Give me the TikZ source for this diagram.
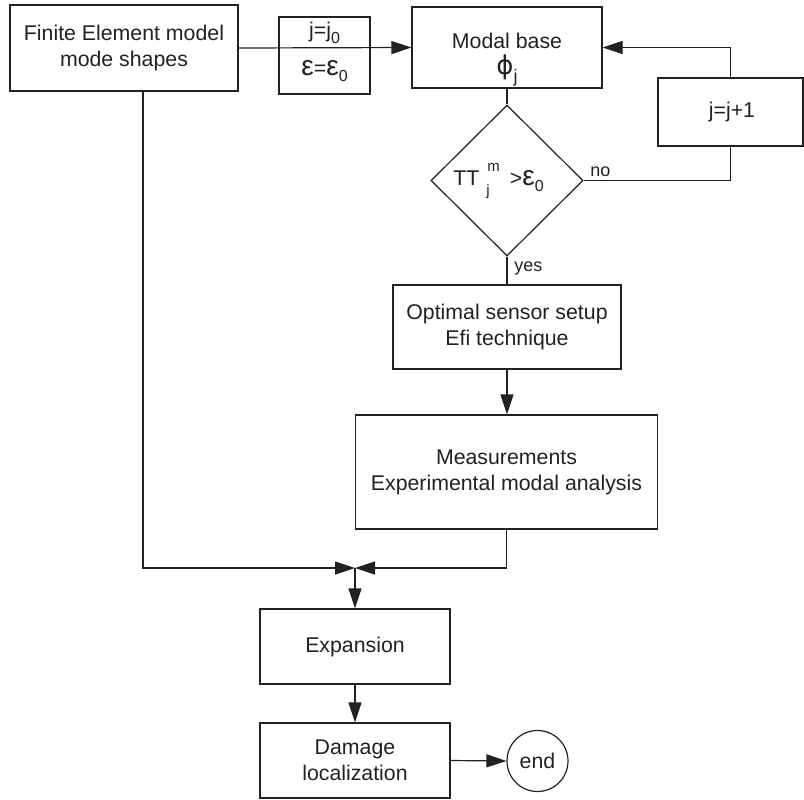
\documentclass[tikz,border=0pt]{standalone}
\usepackage{fontspec}
\setmainfont{Liberation Sans}
\newfontfamily\dvs{DejaVu Sans}
\usetikzlibrary{arrows.meta,shapes.geometric}
\definecolor{ink}{gray}{0.13}
\newcommand\epsbig{{\fontsize{14}{14}\selectfont ε}}
\newcommand\subz{\raisebox{-0.55ex}{\fontsize{8}{9}\selectfont 0}}
\newcommand\smalldx{\fontsize{7.5}{8}\selectfont}
\begin{document}
\begin{tikzpicture}[x=0.5pt,y=-0.5pt,
 every node/.style={font=\fontsize{10.65}{13}\selectfont, text=ink},
 box/.style={draw=ink, line width=0.6pt, rectangle, inner sep=0pt, align=center},
 line/.style={draw=ink, line width=0.6pt},
 arr/.style={line, -{Triangle[length=10pt,width=6.5pt]}},
 lbl/.style={font=\fontsize{9}{11}\selectfont, inner sep=1pt},
 txt/.style={inner sep=0pt, align=center}]
\useasboundingbox (0,0) rectangle (804,799);

% boxes
\node[box, minimum width=114pt, minimum height=43pt] (fe) at (124,48) {Finite Element model\\mode shapes};
\node[box, minimum width=45.5pt, minimum height=38.5pt] (init) at (324.5,55.5) {};
\node[txt] (initj) at (324.5,33) {j=j\subz};
\node[txt] (inite) at (324.5,71) {\epsbig=\epsbig\subz};
\node[box, minimum width=95pt, minimum height=40.5pt] (modal) at (507,47.5) {};
\node[txt] (modaltxt) at (507,60) {Modal base\\{\dvs\fontsize{13}{13}\selectfont ϕ}\raisebox{-0.7ex}{\fontsize{9}{9}\selectfont j}};
\node[box, minimum width=72.5pt, minimum height=34pt] (jinc) at (730.5,112) {};
\node[txt] (jinctxt) at (732,112) {j=j+1};
\node[draw=ink, line width=0.6pt, diamond, shape aspect=1, inner sep=0pt, minimum width=76pt, minimum height=75.5pt] (dec) at (507,180.5) {};
\node[txt, anchor=west] (dectxt) at (453,181) {TT\hspace{3.5pt}\rlap{\raisebox{-0.9ex}{\smalldx j}}\raisebox{1.3ex}{\hspace{0.5pt}\smalldx m}\hspace{5pt}>\epsbig\subz};
\node[box, minimum width=114pt, minimum height=42pt] (opt) at (507,327) {Optimal sensor setup\\Efi technique};
\node[box, minimum width=151pt, minimum height=57pt] (meas) at (506.5,472) {Measurements\\Experimental modal analysis};
\node[box, minimum width=95pt, minimum height=37.5pt] (exp) at (355,646.5) {Expansion};
\node[box, minimum width=95pt, minimum height=37.5pt] (dmg) at (355,760.5) {Damage\\localization};
\node[draw=ink, line width=0.6pt, circle, inner sep=0pt, minimum size=30.5pt] (end) at (537.5,761) {end};

\coordinate (junc) at (355,568);
\coordinate (febot) at (143,91);

% connectors
\draw[arr] (fe.east) -- (modal.west);
\draw[arr] (jinc.north) |- (modal.east);
\draw[line] (modal.south) -- (dec.north);
\draw[line] (dec.east) -| (jinc.south);
\node[lbl, anchor=south west] (no) at (588,179) {no};
\draw[line] (dec.south) -- (opt.north);
\node[lbl, anchor=west] (yes) at (512,269) {yes};
\draw[arr] (opt.south) -- (opt.south |- meas.north);
\draw[arr] (febot) |- (junc);
\draw[arr] (meas.south) |- (junc);
\draw[arr] (junc) -- (exp.north);
\draw[arr] (exp.south) -- (dmg.north);
\draw[arr] (dmg.east) -- (end.west);
\end{tikzpicture}
\end{document}
